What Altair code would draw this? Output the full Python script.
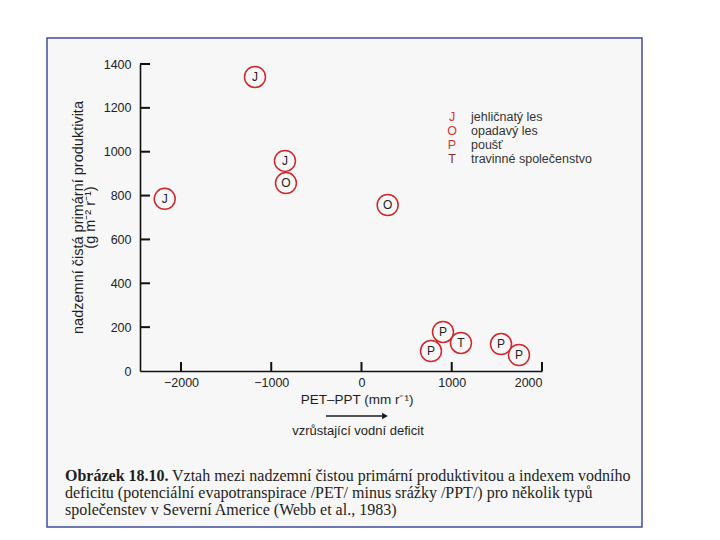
import altair as alt
import pandas as pd

# ---- data ----
pet_ppt = [-2180, -1180, -848, -837, 290, 770, 903, 1102, 1546, 1745]
npp = [785, 1341, 958, 857, 757, 91, 178, 128, 123, 73]
types = ["J", "J", "J", "O", "O", "P", "P", "T", "P", "P"]

legend_letters = ["J", "O", "P", "T"]
legend_labels = ["jehličnatý les", "opadavý les", "poušť", "travinné společenstvo"]
legend_colors = ["#d3343a", "#d3343a", "#d3343a", "#8a3434"]

x_ticks = [-2000, -1000, 0, 1000, 2000]
y_ticks = [0, 200, 400, 600, 800, 1000, 1200, 1400]

x_title = "PET–PPT (mm r⁻¹)"
x_note = "vzrůstající vodní deficit"
y_title = ["nadzemní čistá primární produktivita", "(g m⁻² r⁻¹)"]

caption_bold = "Obrázek 18.10."
caption_lines = [
    "Vztah mezi nadzemní čistou primární produktivitou a indexem vodního",
    "deficitu (potenciální evapotranspirace /PET/ minus srážky /PPT/) pro několik typů",
    "společenstev v Severní Americe (Webb et al., 1983)",
]

# ---- layout ----
W, H = 402, 307
SANS = "Liberation Sans"
SERIF = "Liberation Serif"
INK = "#1e1e1e"

df = pd.DataFrame({"pet": pet_ppt, "npp": npp, "type": types})
xs = alt.Scale(domain=[-2454, 2000], nice=False, zero=False)
ys = alt.Scale(domain=[0, 1400], nice=False, zero=False)

one = pd.DataFrame({"d": [0]})

frame = alt.Chart(one).mark_rect(fill="#f7f7f7", stroke="#3f4d9e", strokeWidth=1.5).encode(
    x=alt.value(-93), x2=alt.value(502), y=alt.value(-26), y2=alt.value(463)
)

circles = alt.Chart(df).mark_point(
    shape="circle", filled=False, size=440, color="#d0282c", strokeWidth=1.5, opacity=1
).encode(
    x=alt.X("pet:Q", scale=xs, axis=alt.Axis(
        values=x_ticks, format="d", tickSize=0, labelPadding=5, grid=False, title=None,
        domainColor="#111", domainWidth=1.6, labelFont=SANS, labelFontSize=12.5,
        labelColor="#222", zindex=1)),
    y=alt.Y("npp:Q", scale=ys, axis=alt.Axis(
        values=y_ticks, format="d", tickSize=0, labelPadding=9, grid=False, title=None,
        domainColor="#111", domainWidth=1.6, labelFont=SANS, labelFontSize=12.5,
        labelColor="#222", zindex=1)),
)

letters = alt.Chart(df).mark_text(font=SANS, fontSize=12, color=INK, baseline="middle").encode(
    x=alt.X("pet:Q", scale=xs), y=alt.Y("npp:Q", scale=ys), text="type:N"
)

xt = alt.Chart(pd.DataFrame({"v": x_ticks})).mark_rule(color="#111", strokeWidth=2).encode(
    x=alt.X("v:Q", scale=xs), y=alt.value(H), y2=alt.value(H - 9)
)
yt = alt.Chart(pd.DataFrame({"v": y_ticks[1:]})).mark_rule(color="#111", strokeWidth=2).encode(
    y=alt.Y("v:Q", scale=ys), x=alt.value(0), x2=alt.value(10)
)

layers = [frame, xt, yt, circles, letters]

# legend
for i, (ltr, lab, col) in enumerate(zip(legend_letters, legend_labels, legend_colors)):
    yy = 53 + 14 * i
    layers.append(alt.Chart(pd.DataFrame({"t": [ltr]})).mark_text(
        font=SANS, fontSize=12.5, color=col, baseline="middle", align="center").encode(
        x=alt.value(312), y=alt.value(yy), text="t:N"))
    layers.append(alt.Chart(pd.DataFrame({"t": [lab]})).mark_text(
        font=SANS, fontSize=12.5, color="#333", baseline="middle", align="left").encode(
        x=alt.value(331), y=alt.value(yy), text="t:N"))

# x title, arrow, note
layers.append(alt.Chart(pd.DataFrame({"t": [x_title]})).mark_text(
    font=SANS, fontSize=13.5, color=INK, baseline="middle", align="center").encode(
    x=alt.value(217), y=alt.value(336), text="t:N"))
layers.append(alt.Chart(one).mark_rule(color=INK, strokeWidth=1.3).encode(
    x=alt.value(186), x2=alt.value(244), y=alt.value(352)))
layers.append(alt.Chart(one).mark_point(shape="triangle-right", filled=True, size=45,
                                        color=INK, opacity=1).encode(
    x=alt.value(245), y=alt.value(352)))
layers.append(alt.Chart(pd.DataFrame({"t": [x_note]})).mark_text(
    font=SANS, fontSize=13, color=INK, baseline="middle", align="center").encode(
    x=alt.value(218), y=alt.value(367), text="t:N"))

# y title (rotated)
for j, (line, xx) in enumerate(zip(y_title, [-61, -49])):
    layers.append(alt.Chart(pd.DataFrame({"t": [line]})).mark_text(
        font=SANS, fontSize=14.5, color=INK, baseline="middle", align="center", angle=270).encode(
        x=alt.value(xx), y=alt.value(H / 2), text="t:N"))

# caption
layers.append(alt.Chart(pd.DataFrame({"t": [caption_bold]})).mark_text(
    font=SERIF, fontSize=16, fontWeight="bold", color=INK, baseline="middle", align="left").encode(
    x=alt.value(-75), y=alt.value(412), text="t:N"))
for k, line in enumerate(caption_lines):
    layers.append(alt.Chart(pd.DataFrame({"t": [line]})).mark_text(
        font=SERIF, fontSize=16, color=INK, baseline="middle", align="left").encode(
        x=alt.value(32 if k == 0 else -75), y=alt.value(412 + 17 * k), text="t:N"))

chart = alt.layer(*layers).properties(
    width=W, height=H,
    autosize=alt.AutoSizeParams(type="none"),
    padding={"left": 132, "top": 56, "right": 166, "bottom": 159},
    background="white",
).configure_view(strokeWidth=0)

chart.save("out.html", embed_options={"renderer": "svg", "actions": False})
